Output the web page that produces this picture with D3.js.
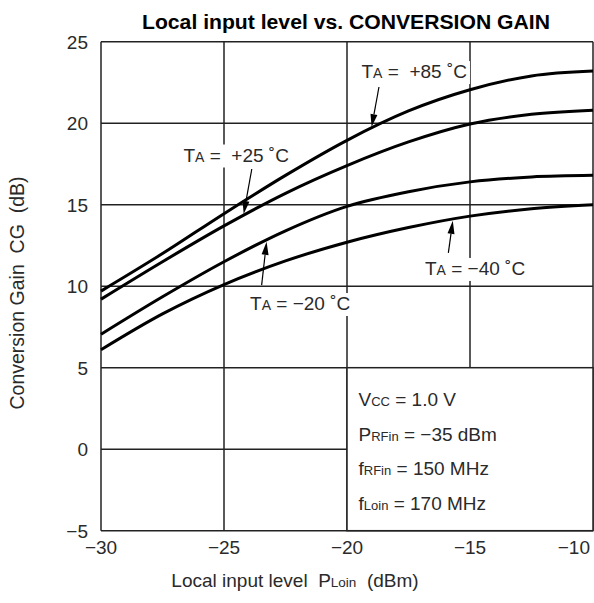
<!DOCTYPE html>
<html><head><meta charset="utf-8">
<script src="https://cdn.jsdelivr.net/npm/d3@7/dist/d3.min.js"></script>
<style>
html,body{margin:0;padding:0;background:#fff;}
svg{display:block;}
text{font-family:"Liberation Sans",Arial,sans-serif;fill:#2a2a2a;white-space:pre;}
</style></head>
<body>
<script>
// ---- data ----
const xValues = [-30, -27.5, -25, -22.5, -20, -17.5, -15, -12.5, -10];
const gain85  = [9.7, 12.0, 14.45, 16.8, 18.95, 20.75, 22.05, 22.9, 23.2];
const gain25  = [9.2, 11.5, 13.7, 15.7, 17.4, 18.85, 19.95, 20.55, 20.8];
const gainM20 = [7.05, 9.35, 11.5, 13.4, 14.9, 15.8, 16.4, 16.7, 16.8];
const gainM40 = [6.1, 8.3, 10.1, 11.55, 12.7, 13.6, 14.3, 14.75, 15.0];
const xTicks = [-30, -25, -20, -15, -10];
const yTicks = [-5, 0, 5, 10, 15, 20, 25];
const seriesNames = ["+85", "+25", "\u221220", "\u221240"];

const W = 594, H = 603;
const svg = d3.select("body").append("svg").attr("width", W).attr("height", H);
const x = d3.scaleLinear().domain([-30, -10]).range([101, 593]);
const y = d3.scaleLinear().domain([-5, 25]).range([530.7, 41.7]);
const fmt = v => v < 0 ? "\u2212" + Math.abs(v) : String(v);

// title
svg.append("text").attr("x", 346).attr("y", 28.5).attr("text-anchor", "middle")
  .attr("font-size", 20).attr("font-weight", "bold").style("fill", "#000")
  .attr("textLength", 408).attr("lengthAdjust", "spacingAndGlyphs")
  .text("Local input level vs. CONVERSION GAIN");

// grid
const g = svg.append("g");
g.selectAll(".vg").data(xTicks).join("line")
  .attr("x1", d => x(d)).attr("x2", d => x(d)).attr("y1", y(25)).attr("y2", y(-5))
  .attr("stroke", "#222").attr("stroke-width", 1.5);
g.selectAll(".hg").data(yTicks).join("line")
  .attr("y1", d => y(d)).attr("y2", d => y(d)).attr("x1", x(-30)).attr("x2", x(-10))
  .attr("stroke", "#222").attr("stroke-width", 1.5);

// tick labels
svg.selectAll(".xt").data(xTicks).join("text")
  .attr("x", d => d === -10 ? x(d) - 3 : x(d)).attr("y", 554)
  .attr("text-anchor", d => d === -10 ? "end" : "middle")
  .attr("font-size", 19).text(fmt);
svg.selectAll(".yt").data(yTicks).join("text")
  .attr("x", 88).attr("y", d => y(d) + 7)
  .attr("text-anchor", "end").attr("font-size", 19).text(fmt);

// axis titles
const xl = svg.append("text").attr("x", 295).attr("y", 587).attr("text-anchor", "middle").attr("font-size", 19);
xl.append("tspan").text("Local input level  P");
xl.append("tspan").attr("font-size", 13.5).text("Loin");
xl.append("tspan").text("  (dBm)");
svg.append("text").attr("transform", "translate(24,293) rotate(-90)")
  .attr("text-anchor", "middle").attr("font-size", 19.5)
  .text("Conversion Gain  CG  (dB)");

// curves
const allSeries = [gain85, gain25, gainM20, gainM40];
const line = d3.line().x((d, i) => x(xValues[i])).y(d => y(d)).curve(d3.curveMonotoneX);
svg.selectAll(".curve").data(allSeries).join("path")
  .attr("d", line).attr("fill", "none").attr("stroke", "#000").attr("stroke-width", 3);

// interpolate a series at data x
function valAt(s, xv) {
  const yy = allSeries[s];
  for (let i = 0; i < xValues.length - 1; i++) {
    if (xv >= xValues[i] && xv <= xValues[i + 1]) {
      const t = (xv - xValues[i]) / (xValues[i + 1] - xValues[i]);
      return yy[i] + t * (yy[i + 1] - yy[i]);
    }
  }
  return yy[yy.length - 1];
}

// annotations (data coordinates)
const annots = [
  {s: 0, tx: -19.41, ty: 22.77, ax: -18.70, ay: 22.22, tip: -19.0},
  {s: 1, tx: -26.65, ty: 17.65, ax: -23.87, ay: 17.19, tip: -24.2},
  {s: 2, tx: -23.94, ty: 8.54,  ax: -23.47, ay: 10.07, tip: -23.27},
  {s: 3, tx: -16.83, ty: 10.69, ax: -15.88, ay: 12.04, tip: -15.7}
];
annots.forEach(a => {
  const grp = svg.append("g");
  const bg = grp.append("rect").attr("fill", "#fff");
  const t = grp.append("text").attr("x", x(a.tx)).attr("y", y(a.ty)).attr("font-size", 19);
  t.append("tspan").text("T");
  t.append("tspan").attr("font-size", 14).text("A");
  t.append("tspan").text(" = " + (a.s < 2 ? " " : "") + seriesNames[a.s] + " \u02daC");
  const bb = t.node().getBBox();
  bg.attr("x", bb.x - 3).attr("y", bb.y).attr("width", bb.width + 6).attr("height", bb.height + 2);
  const yt = y(valAt(a.s, a.tip));
  const x0 = x(a.ax), y0 = y(a.ay), x1 = x(a.tip), y1 = yt + (y0 < yt ? -1.5 : 1.5);
  const dx = x1 - x0, dy = y1 - y0, L = Math.hypot(dx, dy), ux = dx / L, uy = dy / L;
  const hl = 13, hw = 3.5;
  const bx = x1 - ux * hl, by = y1 - uy * hl;
  svg.append("line").attr("x1", x0).attr("y1", y0).attr("x2", bx).attr("y2", by)
    .attr("stroke", "#000").attr("stroke-width", 1.2);
  svg.append("path").attr("d", `M${x1},${y1}L${bx - uy * hw},${by + ux * hw}L${bx + uy * hw},${by - ux * hw}Z`)
    .attr("fill", "#000");
});

// conditions box
svg.append("rect").attr("x", x(-20)).attr("y", y(5)).attr("width", x(-10) - x(-20)).attr("height", y(-5) - y(5))
  .attr("fill", "#fff").attr("stroke", "#222").attr("stroke-width", 1.5);
const cond = [
  ["V", "CC", " = 1.0 V"],
  ["P", "RFin", " = \u221235 dBm"],
  ["f", "RFin", " = 150 MHz"],
  ["f", "Loin", " = 170 MHz"]
];
cond.forEach((c, i) => {
  const t = svg.append("text").attr("x", 358.5).attr("y", 406 + i * 34.6).attr("font-size", 19);
  t.append("tspan").text(c[0]);
  t.append("tspan").attr("font-size", 13).text(c[1]);
  t.append("tspan").text(c[2]);
});
</script>
</body></html>
